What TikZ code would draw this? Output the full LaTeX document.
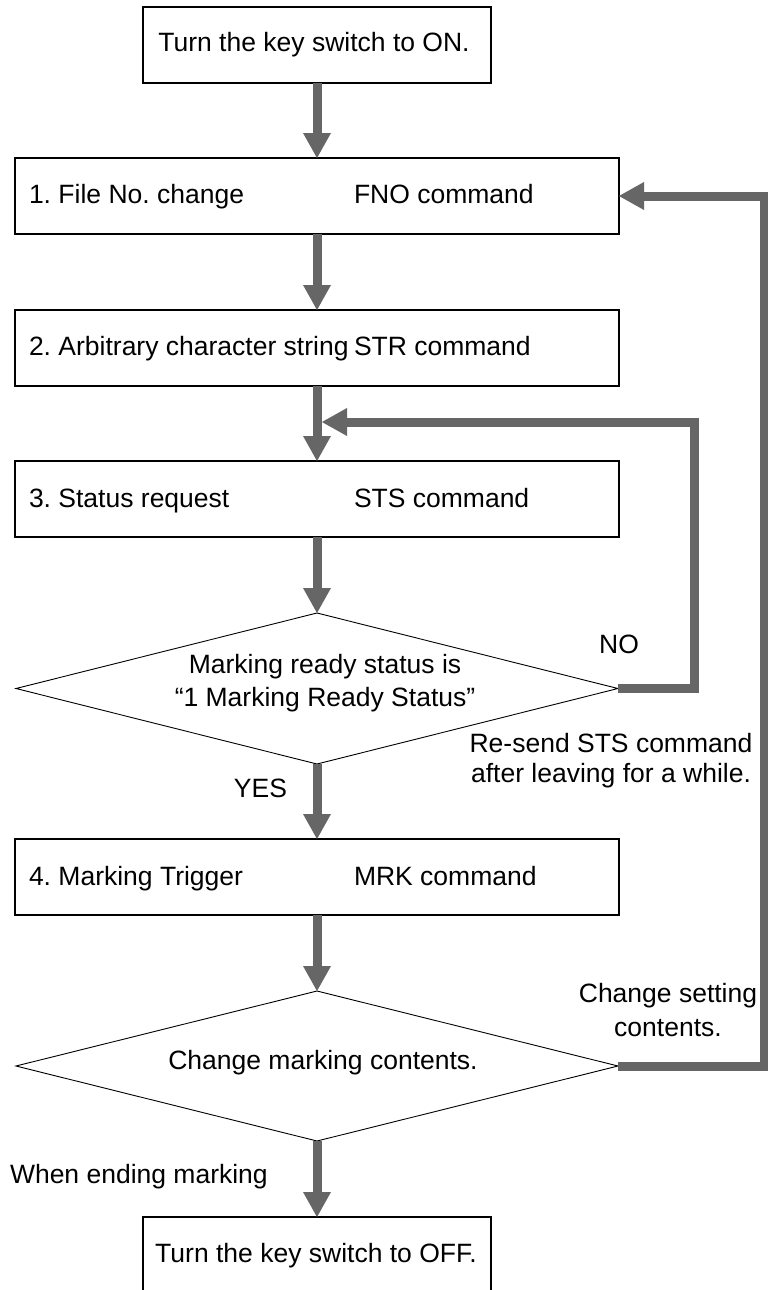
\documentclass[tikz,border=0pt]{standalone}
\usepackage{fontspec}
\setmainfont{Liberation Sans}
\usetikzlibrary{arrows.meta,shapes.geometric}
\definecolor{flowgray}{RGB}{102,102,102}
\begin{document}
\frenchspacing
\begin{tikzpicture}[x=1pt,y=-1pt,
  every node/.style={inner sep=0pt,outer sep=0pt},
  txt/.style={font=\fontsize{26.5}{33}\selectfont},
  stepbox/.style={draw=black,line width=1.3pt,rectangle,minimum height=76pt},
  widebox/.style={stepbox,minimum width=604pt},
  decision/.style={draw=black,line width=0.9pt,diamond,minimum width=602pt,minimum height=151pt},
  flow/.style={draw=flowgray,line width=9pt,-{Triangle[length=25pt,width=28pt,line width'=0pt]}}
]
\useasboundingbox (0,0) rectangle (768,1290);
\fill[white] (0,0) rectangle (768,1290);
\clip (0,0) rectangle (768,1290);

% boxes and decisions
\node[stepbox,minimum width=348pt] (start) at (317,45) {};
\node[widebox] (b1) at (317,196) {};
\node[widebox] (b2) at (317,348) {};
\node[widebox] (b3) at (317,499) {};
\node[decision] (d1) at (317,688.5) {};
\node[widebox] (b4) at (317,877) {};
\node[decision,minimum height=150pt] (d2) at (317,1066) {};
\node[stepbox,minimum width=348pt,minimum height=95pt,anchor=north] (stop) at (317,1217) {};

% texts
\node[txt,anchor=base] (tstart) at (314,52) {Turn the key switch to ON.};
\node[txt,anchor=base west] (t1a) at (29,203) {1. File No. change};
\node[txt,anchor=base west] (t1b) at (354,203) {FNO command};
\node[txt,anchor=base west] (t2a) at (29,355) {2. Arbitrary character string};
\node[txt,anchor=base west] (t2b) at (354,355) {STR command};
\node[txt,anchor=base west] (t3a) at (29,507) {3. Status request};
\node[txt,anchor=base west] (t3b) at (354,507) {STS command};
\node[txt,align=center] (td1) at (325,683) {Marking ready status is\\“1 Marking Ready Status”};
\node[txt,anchor=base] (tno) at (619,653) {NO};
\node[txt,align=center,font=\fontsize{26.5}{30}\selectfont] (tresend) at (611,761) {Re-send STS command\\after leaving for a while.};
\node[txt,anchor=base] (tyes) at (260.5,797) {YES};
\node[txt,anchor=base west] (t4a) at (29,885) {4. Marking Trigger};
\node[txt,anchor=base west] (t4b) at (354,885) {MRK command};
\node[txt,anchor=base] (td2) at (323,1069) {Change marking contents.};
\node[txt,align=center,font=\fontsize{26.5}{34}\selectfont] (tchange) at (668,1010) {Change setting\\contents.};
\node[txt,anchor=base west] (tend) at (10,1183) {When ending marking};
\node[txt,anchor=base] (tstop) at (316,1262) {Turn the key switch to OFF.};

% loop corner points
\coordinate (n1) at (694,422);
\coordinate (n2) at (322,422);
\coordinate (c1) at (764,196);

% connectors
\draw[flow] (start.south) -- (b1.north);
\draw[flow] (b1.south) -- (b2.north);
\draw[flow] (b2.south) -- (b3.north);
\draw[flow] (b3.south) -- (d1.north);
\draw[flow] (d1.south) -- (b4.north);
\draw[flow] (b4.south) -- (d2.north);
\draw[flow] (d2.south) -- (stop.north);
\draw[flow] (d1.east) -| (n1) -- (n2);
\draw[flow] (d2.east) -| (c1) -- (b1.east);
\end{tikzpicture}
\end{document}
